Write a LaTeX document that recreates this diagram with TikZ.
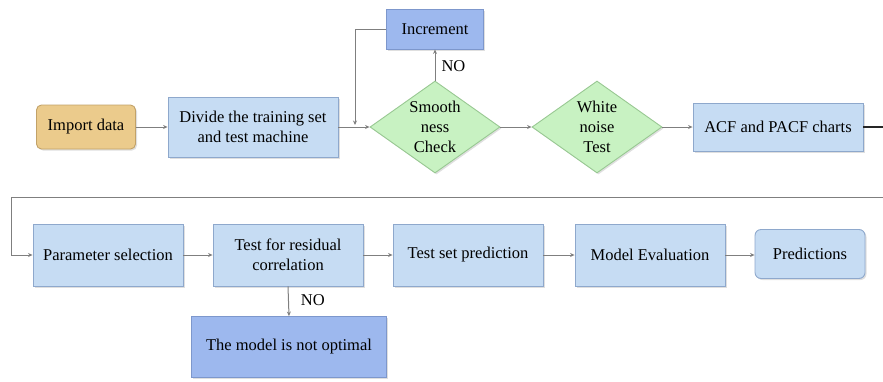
\documentclass[tikz,border=0pt]{standalone}
\usepackage{fontspec}
\setmainfont{Liberation Serif}
\newfontfamily\tms{Liberation Serif}
\usetikzlibrary{shapes.geometric,arrows.meta,shadows}
\definecolor{boxblue}{HTML}{C6DCF3}
\definecolor{boxedge}{HTML}{8EA8CC}
\definecolor{darkblue}{HTML}{9DB8EE}
\definecolor{darkedge}{HTML}{7D97CC}
\definecolor{tan}{HTML}{EBCB8C}
\definecolor{tanedge}{HTML}{C2A268}
\definecolor{dgreen}{HTML}{C8F2C2}
\definecolor{greenedge}{HTML}{98C892}
\definecolor{linegray}{HTML}{7F7F7F}
\tikzset{
  x=1pt, y=-1pt,
  every node/.style={font=\tms\fontsize{16.5}{20}\selectfont, align=center, inner sep=0pt},
  base/.style={draw, line width=0.9pt, drop shadow={opacity=0.25, shadow xshift=1.5pt, shadow yshift=-1.5pt}},
  bluebox/.style={base, fill=boxblue, draw=boxedge, minimum width=150pt, minimum height=62pt},
  darkbox/.style={base, fill=darkblue, draw=darkedge},
  tanbox/.style={base, fill=tan, draw=tanedge, rounded corners=5pt, minimum width=99pt, minimum height=44pt},
  roundbox/.style={base, fill=boxblue, draw=boxedge, rounded corners=6pt},
  decision/.style={base, diamond, fill=dgreen, draw=greenedge, minimum width=130pt, minimum height=92pt},
  conn/.style={draw=linegray, line width=1pt, -{Stealth[length=4.5pt,width=4pt]}},
  plain/.style={draw=linegray, line width=1.2pt},
}
\begin{document}
\begin{tikzpicture}
\useasboundingbox (0,0) rectangle (883,381);
% top row
\node[tanbox] (imp) at (86,127) {Import data};
\node[bluebox, minimum width=170pt, minimum height=60pt] (div) at (253,127) {Divide the training set\\and test machine};
\node[darkbox, minimum width=97pt, minimum height=40pt] (inc) at (435,29) {Increment};
\node[decision, label={[align=center]center:Smooth\\ness\\Check}] (smo) at (435,127) {};
\node[decision, label={[align=center]center:White\\noise\\Test}] (wht) at (597,127) {};
\node[bluebox, minimum width=170pt, minimum height=48pt] (acf) at (778,127) {ACF and PACF charts};
% bottom row
\node[bluebox] (par) at (108,255) {Parameter selection};
\node[bluebox] (res) at (288,255) {Test for residual\\correlation};
\node[bluebox] (tsp) at (468,255) {Test set prediction};
\node[bluebox] (mev) at (650,255) {Model Evaluation};
\node[roundbox, minimum width=110pt, minimum height=49pt] (pre) at (810,254) {Predictions};
\node[darkbox, minimum width=195pt, minimum height=61pt] (opt) at (289,347) {The model is not optimal};
% coordinates
\coordinate (fb) at (355,29);
\coordinate (fbend) at (355,125);
\coordinate (edge1) at (883,127);
\coordinate (edge2) at (883,197);
\coordinate (lft) at (11,197);
\coordinate (lftd) at (11,255);
% connectors
\draw[conn] (imp.east) -- (div.west);
\draw[conn] (div.east) -- (smo.west);
\draw[conn] (inc.west) -- (fb) -- (fbend);
\draw[conn] (smo.north) -- node[right=6pt, pos=0.45] (no1) {NO} (inc.south);
\draw[conn] (smo.east) -- (wht.west);
\draw[conn] (wht.east) -- (acf.west);
\draw[plain, draw=black!85] (acf.east) -- (edge1);
\draw[conn] (edge2) -- (lft) -- (lftd) -- (par.west);
\draw[conn] (par.east) -- (res.west);
\draw[conn] (res.east) -- (tsp.west);
\draw[conn] (tsp.east) -- (mev.west);
\draw[conn] (mev.east) -- (mev.east -| pre.west);
\draw[conn] (res.south) -- node[right=12pt, pos=0.45] (no2) {NO} (opt.north);
\end{tikzpicture}
\end{document}
